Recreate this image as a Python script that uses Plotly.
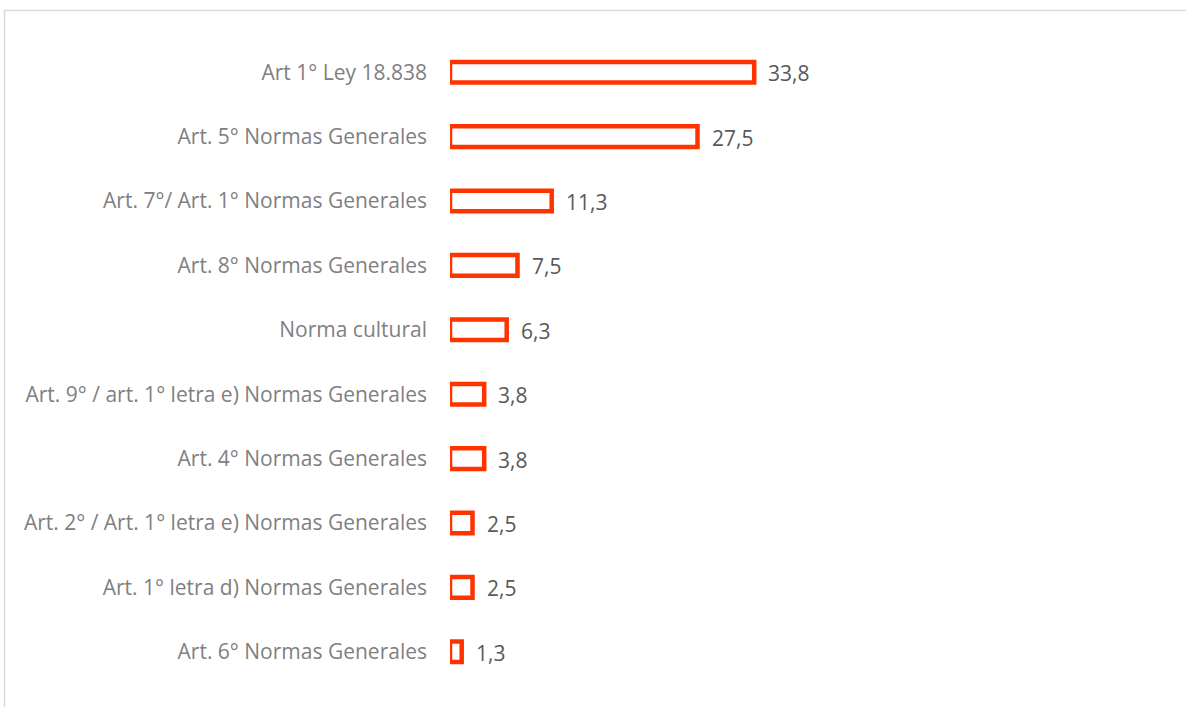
import plotly.graph_objects as go

categories = [
    "Art 1° Ley 18.838",
    "Art. 5° Normas Generales",
    "Art. 7°/ Art. 1° Normas Generales",
    "Art. 8° Normas Generales",
    "Norma cultural",
    "Art. 9° / art. 1° letra e) Normas Generales",
    "Art. 4° Normas Generales",
    "Art. 2° / Art. 1° letra e) Normas Generales",
    "Art. 1° letra d) Normas Generales",
    "Art. 6° Normas Generales",
]
values = [33.8, 27.5, 11.3, 7.5, 6.3, 3.8, 3.8, 2.5, 2.5, 1.3]
value_labels = ["33,8", "27,5", "11,3", "7,5", "6,3", "3,8", "3,8", "2,5", "2,5", "1,3"]

W, H = 1186, 707
ML, MT, MB = 450, 40, 23
XMAX = 40
PW = 360
MR = W - ML - PW
PH = H - MT - MB

FONT = "Open Sans"
BAR_COLOR = "#FF3300"

fig = go.Figure()
fig.add_trace(go.Bar(
    x=values,
    y=categories,
    orientation="h",
    width=0.32,
    marker=dict(color="white", line=dict(color=BAR_COLOR, width=4.5)),
    hoverinfo="skip",
))

for v, c, t in zip(values, categories, value_labels):
    fig.add_annotation(
        x=v, y=c, xref="x", yref="y", text=t, showarrow=False,
        xanchor="left", yanchor="middle", xshift=12, yshift=-1,
        font=dict(family=FONT, size=21, color="#595959"),
    )

# outer chart border (light gray), extending past the page
fig.add_shape(
    type="rect", xref="paper", yref="paper",
    x0=(4.5 - ML) / PW, x1=(W + 10 - ML) / PW,
    y0=-(MB + 10) / PH, y1=1 + (MT - 10.5) / PH,
    line=dict(color="#D9D9D9", width=1.5), fillcolor="rgba(0,0,0,0)",
    layer="below",
)

fig.update_layout(
    width=W, height=H,
    margin=dict(l=ML, r=MR, t=MT, b=MB, pad=0),
    paper_bgcolor="white", plot_bgcolor="white",
    showlegend=False,
    xaxis=dict(range=[0, XMAX], visible=False, fixedrange=True),
    yaxis=dict(
        autorange="reversed", showgrid=False, zeroline=False, showline=False,
        ticks="", ticklabelstandoff=22, fixedrange=True,
        tickfont=dict(family=FONT, size=21, color="#808080"),
    ),
)

fig.write_html(
    "out.html",
    config={"displayModeBar": False},
    post_script="document.body.style.margin='0';document.body.style.padding='0';",
)
